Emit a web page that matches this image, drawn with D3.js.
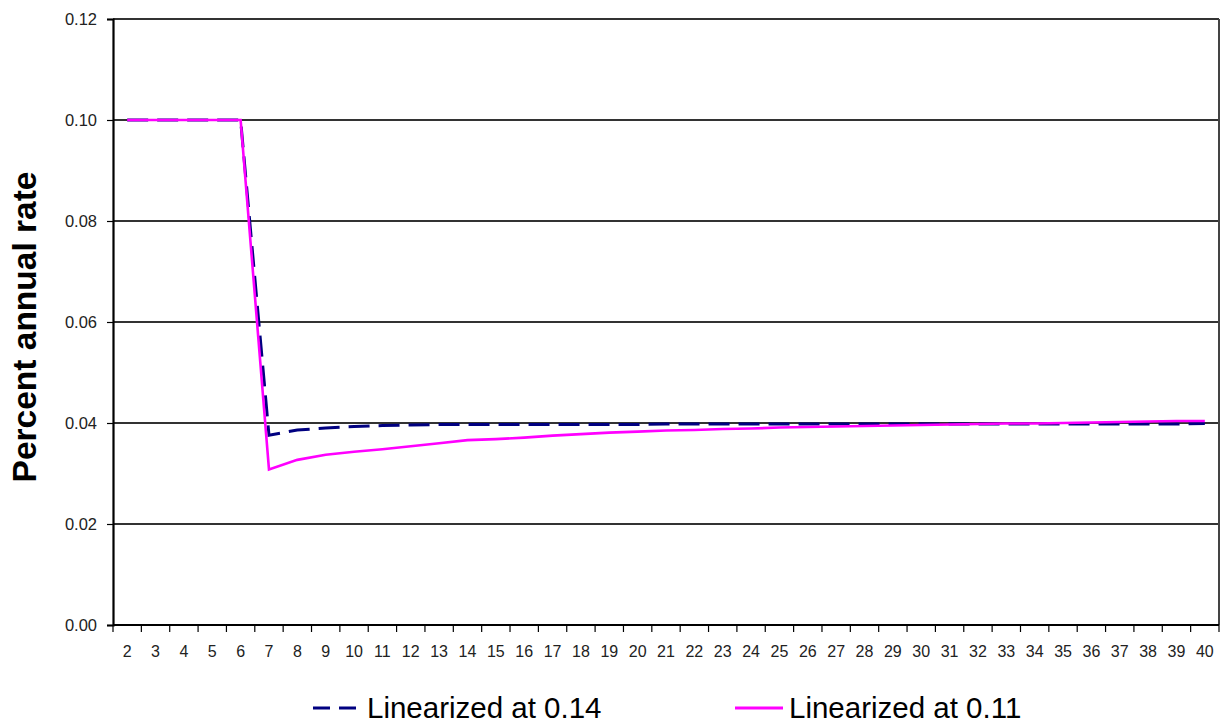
<!DOCTYPE html>
<html>
<head>
<meta charset="utf-8">
<script src="https://cdn.jsdelivr.net/npm/d3@7"></script>
<style>
  html, body { margin: 0; padding: 0; background: #fff; }
  svg { display: block; }
  text { font-family: "Liberation Sans", Arial, sans-serif; }
</style>
</head>
<body>
<svg id="chart" width="1224" height="725"></svg>
<script>
// ---- Data ----
const categories = d3.range(2, 41); // 2..40
const seriesNames = ["Linearized at 0.14", "Linearized at 0.11"];
const lin014 = [
  0.100, 0.100, 0.100, 0.100, 0.100,           // 2-6
  0.0376, 0.0386, 0.0390, 0.0393, 0.0395,      // 7-11
  0.0396, 0.0397, 0.0397, 0.0397, 0.0397,      // 12-16
  0.0397, 0.0397, 0.0397, 0.0397, 0.0398,      // 17-21
  0.0398, 0.0398, 0.0398, 0.0398, 0.0398,      // 22-26
  0.0398, 0.0398, 0.0398, 0.0398, 0.0398,      // 27-31
  0.0398, 0.0398, 0.0398, 0.0398, 0.0398,      // 32-36
  0.0398, 0.0398, 0.0398, 0.0399               // 37-40
];
const lin011 = [
  0.100, 0.100, 0.100, 0.100, 0.100,           // 2-6
  0.0308, 0.0327, 0.0337, 0.0343, 0.0348,      // 7-11
  0.0354, 0.0360, 0.0366, 0.0368, 0.0371,      // 12-16
  0.0375, 0.0378, 0.0381, 0.0383, 0.0385,      // 17-21
  0.0386, 0.0388, 0.0389, 0.0391, 0.0392,      // 22-26
  0.0393, 0.0394, 0.0395, 0.0396, 0.0397,      // 27-31
  0.0398, 0.0399, 0.0399, 0.0400, 0.0401,      // 32-36
  0.0402, 0.0403, 0.0404, 0.0404               // 37-40
];
const yTicks = [0, 0.02, 0.04, 0.06, 0.08, 0.10, 0.12];

// ---- Layout ----
const svg = d3.select("#chart");
const pL = 113, pR = 1219, pT = 19, pB = 625;

const x = d3.scaleBand().domain(categories).range([pL, pR]).padding(0);
const y = d3.scaleLinear().domain([0, 0.12]).range([pB, pT]);
const cx = c => x(c) + x.bandwidth() / 2;

// gridlines
svg.append("g").selectAll("line").data(yTicks.filter(d => d > 0)).join("line")
  .attr("x1", pL).attr("x2", pR)
  .attr("y1", d => y(d)).attr("y2", d => y(d))
  .attr("stroke", "#333").attr("stroke-width", 1.5)
  .attr("shape-rendering", "crispEdges");

// right border
svg.append("line").attr("x1", pR).attr("x2", pR).attr("y1", pT).attr("y2", pB)
  .attr("stroke", "#444").attr("stroke-width", 1.5).attr("shape-rendering", "crispEdges");

// y axis
const yAxis = d3.axisLeft(y).tickValues(yTicks).tickFormat(d3.format(".2f")).tickSize(6).tickPadding(10);
const gy = svg.append("g").attr("transform", `translate(${pL},0)`).call(yAxis);
gy.select(".domain").attr("stroke", "#000").attr("stroke-width", 2.2);
gy.selectAll(".tick line").attr("stroke", "#000").attr("stroke-width", 1.2);
gy.selectAll(".tick text").attr("font-size", 16.5).attr("fill", "#222")
  .attr("font-family", "'Liberation Sans', Arial, sans-serif");

// x axis: ticks between categories
const gx = svg.append("g").attr("transform", `translate(0,${pB})`);
gx.append("line").attr("x1", pL).attr("x2", pR).attr("y1", 0).attr("y2", 0)
  .attr("stroke", "#000").attr("stroke-width", 2.2);
const boundaries = categories.map(c => x(c)).concat([x(categories[categories.length - 1]) + x.bandwidth()]);
gx.selectAll("line.tk").data(boundaries).join("line").attr("class", "tk")
  .attr("x1", d => d).attr("x2", d => d).attr("y1", 0).attr("y2", 7)
  .attr("stroke", "#000").attr("stroke-width", 1.2);
gx.selectAll("text").data(categories).join("text")
  .attr("x", d => cx(d)).attr("y", 32)
  .attr("text-anchor", "middle").attr("font-size", 16).attr("fill", "#222")
  .text(d => d);

// lines
const line = d3.line().x((d, i) => cx(categories[i])).y(d => y(d));
svg.append("path").datum(lin014).attr("d", line)
  .attr("fill", "none").attr("stroke", "#000080").attr("stroke-width", 3)
  .attr("stroke-dasharray", "21,9");
svg.append("path").datum(lin011).attr("d", line)
  .attr("fill", "none").attr("stroke", "#ff00ff").attr("stroke-width", 2.6);

// y label
svg.append("text")
  .attr("transform", `translate(36,327) rotate(-90)`)
  .attr("text-anchor", "middle").attr("font-size", 33.5).attr("font-weight", "bold")
  .attr("fill", "#000").text("Percent annual rate");

// legend
const legend = [
  { name: seriesNames[0], color: "#000080", dash: "17,9", x1: 313, x2: 362, tx: 367 },
  { name: seriesNames[1], color: "#ff00ff", dash: null, x1: 735, x2: 783, tx: 789 }
];
const lg = svg.append("g");
legend.forEach(l => {
  lg.append("line").attr("x1", l.x1).attr("x2", l.x2).attr("y1", 708).attr("y2", 708)
    .attr("stroke", l.color).attr("stroke-width", 3)
    .attr("stroke-dasharray", l.dash);
  lg.append("text").attr("x", l.tx).attr("y", 718).attr("font-size", 29.5).attr("fill", "#000")
    .text(l.name);
});
</script>
</body>
</html>
